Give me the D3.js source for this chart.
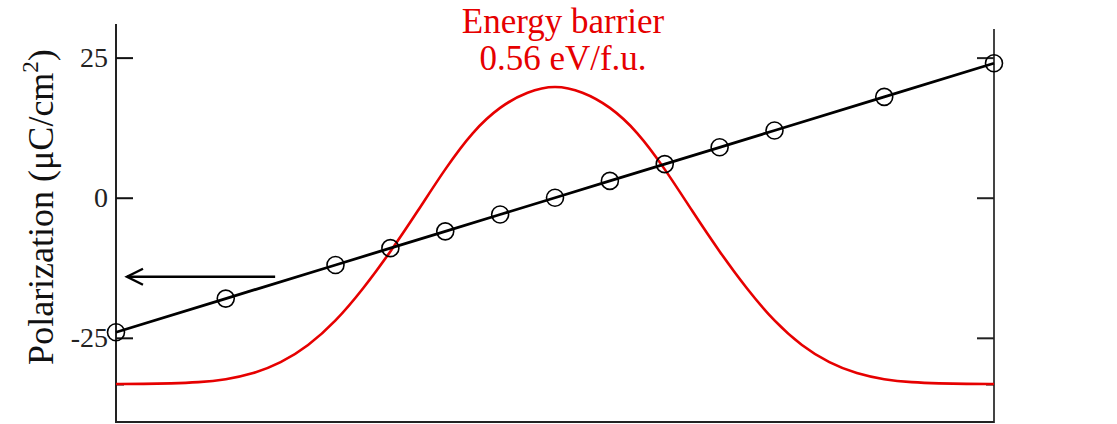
<html>
<head>
    <meta charset="utf-8">
    <script src="https://d3js.org/d3.v7.min.js"></script>
    <style>
        body { margin: 0; background: white; }
        text { font-family: "Liberation Serif", "Times New Roman", serif; }
    </style>
</head>
<body>
    <svg id="chart" width="1117" height="424"></svg>
    <script>
        // polarization points (image index along switching path)
        const polIndex = [0, 2, 4, 5, 6, 7, 8, 9, 10, 11, 12, 14, 16]
        const polValues = [-24, -18, -12, -9, -6, -3, 0, 3, 6, 9, 12, 18, 24]

        // energy barrier curve (eV/f.u.), sampled every half index
        const energyIndex = d3.range(0, 16.01, 0.5)
        const energyValues = [0, 0, 0.001, 0.003, 0.008, 0.019, 0.039, 0.071, 0.117, 0.178,
            0.248, 0.325, 0.405, 0.475, 0.522, 0.55, 0.562, 0.55, 0.522, 0.475, 0.405, 0.325,
            0.248, 0.178, 0.117, 0.071, 0.039, 0.019, 0.008, 0.003, 0.001, 0, 0]

        const yTicks = [-25, 0, 25]
        const titleLines = ["Energy barrier", "0.56 eV/f.u."]

        const svg = d3.select("#chart")
        const x = d3.scaleLinear().domain([0, 16]).range([116, 994])
        const y = d3.scaleLinear().domain([-40.2, 31]).range([423, 24])
        const yE = d3.scaleLinear().domain([0, 0.56]).range([384, 86])

        // frame
        svg.append("line").attr("x1", 116).attr("x2", 116).attr("y1", y(31)).attr("y2", 423)
            .style("stroke", "#222").style("stroke-width", 2)
        svg.append("line").attr("x1", 994).attr("x2", 994).attr("y1", y(30.1)).attr("y2", 423)
            .style("stroke", "#444").style("stroke-width", 2)
        svg.append("line").attr("x1", 116).attr("x2", 994).attr("y1", 422).attr("y2", 422)
            .style("stroke", "#222").style("stroke-width", 2)

        const leftAxis = svg.append("g").attr("transform", "translate(116,0)")
            .call(d3.axisLeft(y).tickValues(yTicks).tickSize(-17).tickPadding(8).tickFormat(d => String(d)))
        leftAxis.select(".domain").remove()
        leftAxis.selectAll("line").style("stroke", "#111").style("stroke-width", 2)
        leftAxis.selectAll("text").style("font-size", "28px").style("fill", "#222")
            .style("font-family", "Liberation Serif")

        const rightAxis = svg.append("g").attr("transform", "translate(994,0)")
            .call(d3.axisRight(y).tickValues(yTicks).tickSize(-17).tickFormat(""))
        rightAxis.select(".domain").remove()
        rightAxis.selectAll("line").style("stroke", "#222").style("stroke-width", 2)

        // small energy-axis ticks at 0 eV
        const eLeft = svg.append("g").attr("transform", "translate(116,0)")
            .call(d3.axisLeft(yE).tickValues([0]).tickSize(-8).tickFormat(""))
        eLeft.select(".domain").remove()
        eLeft.selectAll("line").style("stroke", "#111").style("stroke-width", 2)
        const eRight = svg.append("g").attr("transform", "translate(994,0)")
            .call(d3.axisRight(yE).tickValues([0]).tickSize(-8).tickFormat(""))
        eRight.select(".domain").remove()
        eRight.selectAll("line").style("stroke", "#111").style("stroke-width", 2)

        // energy curve
        const energyLine = d3.line()
            .x((d, i) => x(energyIndex[i]))
            .y(d => yE(d))
            .curve(d3.curveBasis)
        svg.append("path").datum(energyValues)
            .attr("d", energyLine)
            .style("fill", "none")
            .style("stroke", "#e60000")
            .style("stroke-width", 2.6)

        // polarization line + circles
        const polLine = d3.line()
            .x((d, i) => x(polIndex[i]))
            .y(d => y(d))
        svg.append("path").datum(polValues)
            .attr("d", polLine)
            .style("fill", "none")
            .style("stroke", "black")
            .style("stroke-width", 2.8)

        svg.selectAll("circle.pol").data(polValues)
            .join("circle")
            .attr("class", "pol")
            .attr("cx", (d, i) => x(polIndex[i]))
            .attr("cy", d => y(d))
            .attr("r", 8.5)
            .style("fill", "none")
            .style("stroke", "black")
            .style("stroke-width", 1.6)

        // arrow pointing to left axis
        const ay = y(-14.1)
        const ax0 = x(0.2), ax1 = x(2.9)
        svg.append("line").attr("x1", ax0).attr("x2", ax1).attr("y1", ay).attr("y2", ay)
            .style("stroke", "black").style("stroke-width", 2.4)
        svg.append("path")
            .attr("d", `M${ax0 + 16},${ay - 8}L${ax0},${ay}L${ax0 + 16},${ay + 8}`)
            .style("fill", "none").style("stroke", "black").style("stroke-width", 2.4)

        // title
        svg.selectAll("text.title").data(titleLines)
            .join("text")
            .attr("class", "title")
            .attr("x", 563)
            .attr("y", (d, i) => 33 + i * 37)
            .attr("text-anchor", "middle")
            .style("font-size", "35px")
            .style("fill", "#e60000")
            .text(d => d)

        // y label
        const yl = svg.append("text")
            .attr("transform", "translate(53,207) rotate(-90)")
            .attr("text-anchor", "middle")
            .style("font-size", "36px")
            .style("fill", "#111")
        yl.append("tspan").text("Polarization (\u03bcC/cm")
        yl.append("tspan").attr("dy", -15).style("font-size", "23px").text("2")
        yl.append("tspan").attr("dy", 15).text(")")
    </script>
</body>
</html>
